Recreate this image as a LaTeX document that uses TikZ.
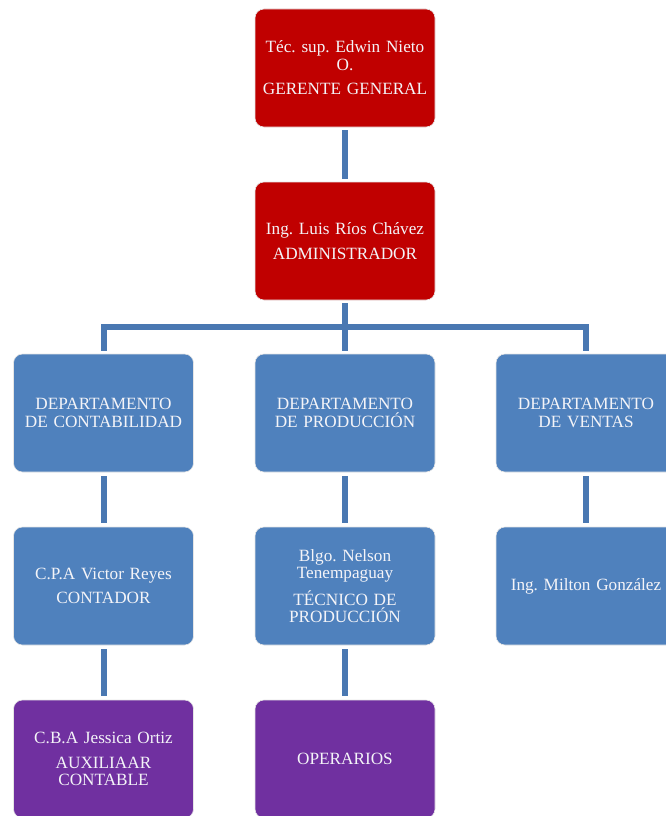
\documentclass[tikz,border=0pt]{standalone}
\usepackage{fontspec}
\setmainfont{Liberation Serif}
\frenchspacing
\definecolor{boxred}{HTML}{C00000}
\definecolor{boxblue}{HTML}{4F81BD}
\definecolor{boxpurple}{HTML}{7030A0}
\definecolor{linkblue}{HTML}{4A78B2}
\definecolor{boxtext}{HTML}{F4F4F8}
\begin{document}
\begin{tikzpicture}[x=1pt,y=-1pt,
  orgbox/.style={rectangle, rounded corners=9pt, minimum width=180pt, minimum height=118pt,
    inner sep=0pt, draw=white!80!gray, line width=0.6pt, text=boxtext, align=center,
    text width=176pt, font=\fontsize{17.2}{17.5}\selectfont\frenchspacing},
  redbox/.style={orgbox, fill=boxred},
  bluebox/.style={orgbox, fill=boxblue},
  purplebox/.style={orgbox, fill=boxpurple},
  link/.style={draw=linkblue, line width=6pt}]
\useasboundingbox (0,0) rectangle (666,816);
\clip (0,0) rectangle (666,816);

% top management
\node[redbox] (gerente) at (345,68) {Téc. sup. Edwin Nieto\\O.\\[7pt]GERENTE GENERAL};
\node[redbox] (admin) at (345,241) {Ing. Luis Ríos Chávez\\[7pt]ADMINISTRADOR};

% departments
\node[bluebox] (contab) at (103.5,413) {DEPARTAMENTO\\DE CONTABILIDAD};
\node[bluebox] (produc) at (345,413) {DEPARTAMENTO\\DE PRODUCCIÓN};
\node[bluebox] (ventas) at (586,413) {DEPARTAMENTO\\DE VENTAS};

% staff
\node[bluebox] (contador) at (103.5,586) {C.P.A Victor Reyes\\[7pt]CONTADOR};
\node[bluebox] (tecnico) at (345,586) {Blgo. Nelson\\Tenempaguay\\[7pt]TÉCNICO DE\\PRODUCCIÓN};
\node[bluebox] (vendedor) at (586,586) {Ing. Milton González};

\node[purplebox] (auxiliar) at (103.5,759) {C.B.A Jessica Ortiz\\[7pt]AUXILIAAR\\CONTABLE};
\node[purplebox] (operarios) at (345,759) {OPERARIOS};

% connectors
\coordinate (bar) at (345,327);
\draw[link] ([yshift=-3pt]gerente.south) -- ([yshift=3pt]admin.north);
\draw[link] ([yshift=-3pt]admin.south) -- (bar);
\draw[link] ([yshift=3pt]contab.north) |- (bar) -| ([yshift=3pt]ventas.north);
\draw[link] (bar) -- ([yshift=3pt]produc.north);
\draw[link] ([yshift=-4pt]contab.south) -- ([yshift=4pt]contador.north);
\draw[link] ([yshift=-4pt]produc.south) -- ([yshift=4pt]tecnico.north);
\draw[link] ([yshift=-4pt]ventas.south) -- ([yshift=4pt]vendedor.north);
\draw[link] ([yshift=-4pt]contador.south) -- ([yshift=4pt]auxiliar.north);
\draw[link] ([yshift=-4pt]tecnico.south) -- ([yshift=4pt]operarios.north);
\end{tikzpicture}
\end{document}
